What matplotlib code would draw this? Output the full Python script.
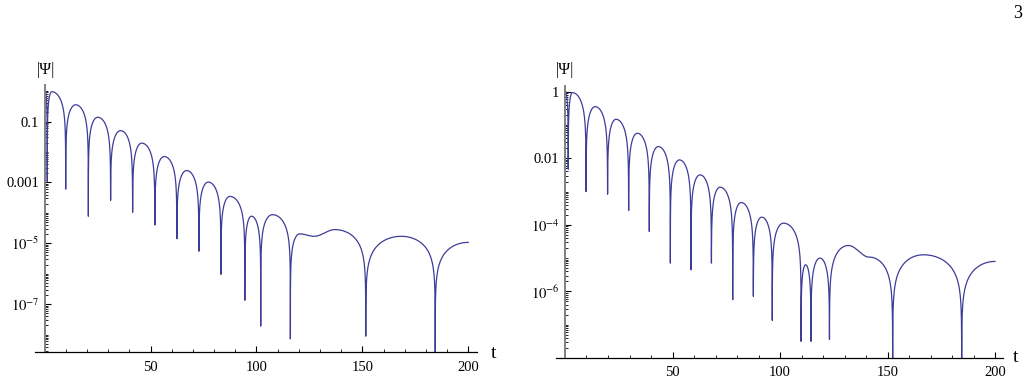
import numpy as np
import matplotlib.pyplot as plt
from matplotlib.ticker import FixedLocator, LogLocator, MultipleLocator, NullFormatter

plt.rcParams['font.family'] = ['Liberation Serif', 'DejaVu Serif']
plt.rcParams['mathtext.fontset'] = 'stix'

# ---- data (t, log10|Psi|) ----
# left panel
zeros_L = [1.2, 9.9, 20.6, 31.1, 41.5, 52.0, 62.4, 72.8, 83.2, 94.5, 102.0, 116.0, 151.6, 184.4]
depths_L = [-2.97, -3.22, -4.11, -3.59, -3.98, -4.40, -4.85, -5.26, -6.02, -6.87, -7.72, -8.14, -8.05, -8.7]
peak_t_L = [0.0, 3.3, 14.6, 25.0, 35.8, 45.8, 56.4, 67.0, 77.2, 87.4, 97.6, 107.5,
            120.4, 127.2, 137.0, 168.4, 200.0]
peak_v_L = [0.04, -0.02, -0.45, -0.86, -1.30, -1.71, -2.15, -2.61, -2.99, -3.46, -4.11, -4.06,
            -4.69, -4.77, -4.55, -4.77, -4.97]

# right panel
zeros_R = [1.5, 9.8, 19.8, 29.6, 39.2, 49.0, 58.6, 68.1, 78.0, 87.6, 96.4, 109.8, 114.4, 123.0, 152.4, 184.5]
depths_R = [-2.33, -3.0, -3.08, -3.57, -4.2, -5.15, -5.35, -5.15, -6.25, -6.15, -6.87, -7.5, -7.5, -7.44, -8.1, -8.1]
peak_t_R = [0.0, 3.4, 14.0, 23.7, 33.6, 43.4, 53.2, 62.8, 72.1, 81.9, 91.5, 101.6, 111.9, 118.6,
            131.8, 141.5, 166.7, 200.0]
peak_v_R = [0.03, -0.03, -0.45, -0.83, -1.25, -1.65, -2.05, -2.50, -2.87, -3.33, -3.77, -3.95, -5.2, -5.0,
            -4.62, -4.97, -4.9, -5.1]

xticks = [50, 100, 150, 200]
yticks_L = [1e-1, 1e-3, 1e-5, 1e-7]
ylabels_L = ['0.1', '0.001', r'$10^{-5}$', r'$10^{-7}$']
yticks_R = [1, 1e-2, 1e-4, 1e-6]
ylabels_R = ['1', '0.01', r'$10^{-4}$', r'$10^{-6}$']

LINE = '#3d3d99'


def build_curve(zeros, depths, kt, kv, t0=0.0, t1=200.0):
    # each lobe between two zeros: arches rising to the first knot and
    # falling from the last one, smooth steps between knots
    bounds = [t0] + zeros + [t1]
    dep = [None] + depths + [None]
    kt = np.array(kt)
    kv = np.array(kv)
    ts, vs = [], []
    for a, b, da, db in zip(bounds[:-1], bounds[1:], dep[:-1], dep[1:]):
        sel = (kt >= a) & (kt <= b)
        pt, pv = kt[sel], kv[sel]
        t = a + (b - a) * (1 - np.cos(np.linspace(0, np.pi, 800))) / 2
        v = np.full_like(t, pv[0])
        for x0, x1, y0, y1 in zip(pt[:-1], pt[1:], pv[:-1], pv[1:]):
            m = (t >= x0) & (t <= x1)
            u = (t[m] - x0) / (x1 - x0)
            v[m] = y0 + (y1 - y0) * (1 - np.cos(np.pi * u)) / 2
        v[t > pt[-1]] = pv[-1]
        s = np.ones_like(t)
        if pt[0] > a:
            m = t < pt[0]
            s[m] = np.sin(np.pi / 2 * (t[m] - a) / (pt[0] - a))
        if pt[-1] < b:
            m = t > pt[-1]
            s[m] = np.sin(np.pi / 2 * (b - t[m]) / (b - pt[-1]))
        v = v + np.log10(np.clip(s, 1e-30, None))
        mid = (a + b) / 2
        if da is not None:
            v[t < mid] = np.maximum(v[t < mid], da)
        if db is not None:
            v[t >= mid] = np.maximum(v[t >= mid], db)
        ts.append(t)
        vs.append(v)
    return np.concatenate(ts), 10 ** np.concatenate(vs)


def style(ax, xr, yr, yt, yl):
    ax.set_yscale('log')
    ax.set_xlim(*xr)
    ax.set_ylim(*yr)
    ax.patch.set_alpha(0)
    ax.spines[['top', 'right']].set_visible(False)
    ax.spines['left'].set_position(('data', 0))
    ax.spines['left'].set_color('#808080')
    ax.spines['left'].set_linewidth(1.4)
    ax.spines['bottom'].set_color('black')
    ax.spines['bottom'].set_linewidth(0.9)
    ax.set_yticks(yt, yl)
    ax.yaxis.set_minor_locator(LogLocator(base=10, subs=np.arange(1, 10), numticks=100))
    ax.yaxis.set_minor_formatter(NullFormatter())
    ax.set_xticks(xticks)
    ax.xaxis.set_minor_locator(MultipleLocator(10))
    ax.tick_params(which='both', direction='in', labelsize=10.5)
    ax.tick_params(which='major', length=4, width=0.8)
    ax.tick_params(which='minor', length=2.2, width=0.6)
    ax.tick_params(axis='y', pad=4)
    ax.tick_params(axis='x', pad=6)


fig = plt.figure(figsize=(10.29, 3.83), dpi=100)

axL = fig.add_axes([0.0340, 0.0802, 0.4297, 0.6979])
tL, yL = build_curve(zeros_L, depths_L, peak_t_L, peak_v_L)
axL.plot(tL, yL, color=LINE, lw=0.9)
style(axL, (-4.6, 204.2), (10 ** -8.58, 10 ** 0.2), yticks_L, ylabels_L)

axR = fig.add_axes([0.5403, 0.0653, 0.4344, 0.7102])
tR, yR = build_curve(zeros_R, depths_R, peak_t_R, peak_v_R)
axR.plot(tR, yR, color=LINE, lw=0.9)
style(axR, (-4.2, 203.7), (10 ** -8.0, 10 ** 0.17), yticks_R, ylabels_R)

W, H = 1029, 383
fig.text(45.5 / W, 1 - 70 / H, '|Ψ|', ha='center', va='center', fontsize=11.5)
fig.text(565 / W, 1 - 70 / H, '|Ψ|', ha='center', va='center', fontsize=11.5)
fig.text(493.5 / W, 1 - 353 / H, 't', ha='center', va='center', fontsize=14)
fig.text(1016 / W, 1 - 358 / H, 't', ha='center', va='center', fontsize=14)
fig.text(1017.5 / W, 1 - 14 / H, '3', ha='center', va='center', fontsize=13)

fig.savefig('out.png', dpi=100)
